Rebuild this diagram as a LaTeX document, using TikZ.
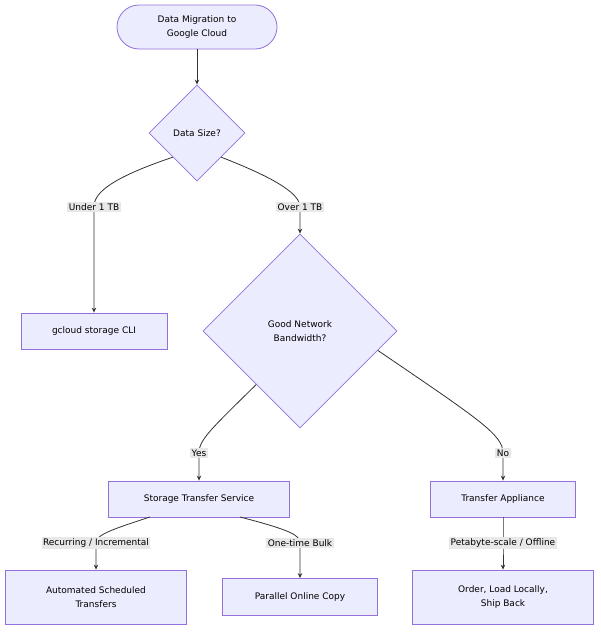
\documentclass[tikz,border=0pt]{standalone}
\usepackage{fontspec}
\setmainfont{DejaVu Sans}
\usetikzlibrary{shapes.geometric,arrows.meta,calc}
\definecolor{nfill}{HTML}{ECECFF}
\definecolor{nline}{HTML}{9370DB}
\definecolor{eline}{HTML}{333333}
\definecolor{lblbg}{HTML}{E8E8E8}
\tikzset{
  box/.style={draw=nline,fill=nfill,line width=0.8pt,rectangle,inner sep=0pt,align=center,font=\fontsize{9}{13.5}\selectfont},
  dia/.style={draw=nline,fill=nfill,line width=0.8pt,diamond,inner sep=0pt,align=center,font=\fontsize{9}{13.5}\selectfont},
  lbl/.style={fill=lblbg,inner sep=1.5pt,font=\fontsize{9}{11}\selectfont},
  edge/.style={draw=eline,line width=0.8pt,-{Stealth[length=5pt,width=4.5pt]}}
}
\begin{document}
\begin{tikzpicture}[x=1pt,y=-1pt]
\useasboundingbox (0,0) rectangle (600,632);
\node[box,rounded corners=22pt,minimum width=160pt,minimum height=44pt] (start) at (197,27) {Data Migration to\\Google Cloud};
\node[dia,minimum width=96pt,minimum height=96pt] (ds) at (197,133) {Data Size?};
\node[box,minimum width=146pt,minimum height=36pt] (gc) at (94,331) {gcloud storage CLI};
\node[dia,minimum width=194pt,minimum height=194pt] (gnb) at (300,331) {Good Network\\Bandwidth?};
\node[box,minimum width=181pt,minimum height=36pt] (sts) at (199,499) {Storage Transfer Service};
\node[box,minimum width=145pt,minimum height=36pt] (ta) at (503,499) {Transfer Appliance};
\node[box,minimum width=181pt,minimum height=54pt] (ast) at (96,597) {Automated Scheduled\\Transfers};
\node[box,minimum width=155pt,minimum height=37pt] (poc) at (300,597) {Parallel Online Copy};
\node[box,minimum width=181pt,minimum height=54pt] (olb) at (503,597) {Order, Load Locally,\\Ship Back};
\coordinate (c1) at (94,207);
\coordinate (c2) at (300,207);
\coordinate (c3) at (199,453);
\coordinate (c4) at (503,453);
\coordinate (c5) at (96,543);
\coordinate (c6) at (300,543);
\coordinate (c7) at (503,543);
\draw[edge] (start) -- (ds);
\draw[edge] (ds.south west) .. controls (105,180) and (94,195) .. (c1) -- (gc.north);
\draw[edge] (ds.south east) .. controls (280,180) and (300,195) .. (c2) -- (gnb.north);
\draw[edge] ($(gnb.west)!0.55!(gnb.south)$) .. controls (210,430) and (199,440) .. (c3) -- (sts.north);
\draw[edge] ($(gnb.east)!0.2!(gnb.south)$) .. controls (480,420) and (503,435) .. (c4) -- (ta.north);
\draw[edge] (150,517) .. controls (110,530) and (96,535) .. (c5) -- (ast.north);
\draw[edge] (240,517) .. controls (290,530) and (300,535) .. (c6) -- (poc.north);
\draw[edge] (ta.south) -- (c7) -- (olb.north);
\node[lbl] at (c1) {Under 1 TB};
\node[lbl] at (c2) {Over 1 TB};
\node[lbl] at (c3) {Yes};
\node[lbl] at (c4) {No};
\node[lbl] at (c5) {Recurring / Incremental};
\node[lbl] at (c6) {One-time Bulk};
\node[lbl] at (c7) {Petabyte-scale / Offline};
\end{tikzpicture}
\end{document}
